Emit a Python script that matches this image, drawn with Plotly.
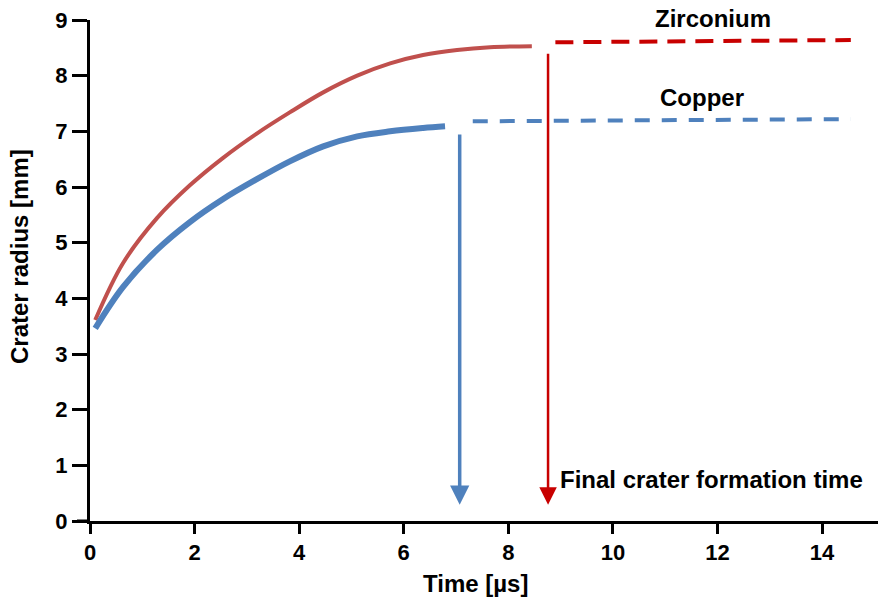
import plotly.graph_objects as go

# Data
zr_t = [0.10, 0.63, 1.28, 1.91, 2.54, 3.19, 3.82, 4.46, 5.11, 5.74, 6.37, 7.02, 7.65, 8.45]
zr_r = [3.61, 4.63, 5.44, 6.03, 6.52, 6.96, 7.34, 7.70, 8.00, 8.22, 8.37, 8.46, 8.51, 8.53]
cu_t = [0.10, 0.63, 1.28, 1.91, 2.54, 3.19, 3.82, 4.46, 5.11, 5.74, 6.37, 6.79]
cu_r = [3.46, 4.20, 4.87, 5.37, 5.78, 6.14, 6.46, 6.73, 6.91, 7.00, 7.06, 7.09]
zr_final_t = [8.9, 14.55]
zr_final_r = [8.60, 8.64]
cu_final_t = [7.32, 14.55]
cu_final_r = [7.18, 7.22]
cu_arrow = dict(t=7.07, r_from=6.97, r_to=0.29)
zr_arrow = dict(t=8.76, r_from=8.42, r_to=0.29)
x_ticks = [0, 2, 4, 6, 8, 10, 12, 14]
y_ticks = [0, 1, 2, 3, 4, 5, 6, 7, 8, 9]

RED_CURVE = "#c0504d"
RED = "#c80000"
BLUE = "#4f81bd"
FONT = "Liberation Sans, Arial, sans-serif"

fig = go.Figure()
fig.add_trace(go.Scatter(x=zr_t, y=zr_r, mode="lines",
                         line=dict(color=RED_CURVE, width=4, shape="spline", smoothing=1),
                         showlegend=False))
fig.add_trace(go.Scatter(x=cu_t, y=cu_r, mode="lines",
                         line=dict(color=BLUE, width=6, shape="spline", smoothing=1),
                         showlegend=False))
fig.add_trace(go.Scatter(x=zr_final_t, y=zr_final_r, mode="lines",
                         line=dict(color=RED, width=4, dash="18px,10px"),
                         showlegend=False))
fig.add_trace(go.Scatter(x=cu_final_t, y=cu_final_r, mode="lines",
                         line=dict(color=BLUE, width=4, dash="15px,12px"),
                         showlegend=False))

for a, col, w, s in [(cu_arrow, BLUE, 3.5, 1.1), (zr_arrow, RED, 2.5, 1.4)]:
    fig.add_annotation(x=a["t"], y=a["r_to"], ax=a["t"], ay=a["r_from"],
                       xref="x", yref="y", axref="x", ayref="y",
                       showarrow=True, arrowhead=2, arrowsize=s,
                       arrowwidth=w, arrowcolor=col, text="")

txt_font = dict(family=FONT, size=24, color="black", weight="bold")
fig.add_annotation(x=11.91, y=(521 - 19) / 501, xref="x", yref="paper", text="Zirconium",
                   showarrow=False, font=txt_font, xanchor="center", yanchor="middle")
fig.add_annotation(x=11.7, y=7.61, xref="x", yref="y", text="Copper",
                   showarrow=False, font=txt_font, xanchor="center", yanchor="middle")
fig.add_annotation(x=8.95, y=0.75, xref="x", yref="y", text="Final crater formation time",
                   showarrow=False, font=txt_font, xanchor="left", yanchor="middle")

title_font = dict(family=FONT, size=24, color="black", weight="bold")
fig.add_annotation(x=0.4886, y=-0.124, xref="paper", yref="paper", text="Time [µs]",
                   showarrow=False, font=title_font, xanchor="center", yanchor="middle")
fig.add_annotation(x=-0.0888, y=0.527, xref="paper", yref="paper", text="Crater radius [mm]",
                   showarrow=False, font=title_font, textangle=-90,
                   xanchor="center", yanchor="middle")

# extension of x axis line to the left of the y axis
fig.add_shape(type="line", xref="paper", yref="paper", x0=-0.0165, x1=0, y0=0, y1=0,
              line=dict(color="black", width=3))

tick_font = dict(family=FONT, size=22, color="black", weight="bold")
fig.update_xaxes(range=[0, 15.07], tickvals=x_ticks, showline=True, linewidth=3,
                 linecolor="black", ticks="outside", ticklen=10, tickwidth=3,
                 tickcolor="black", showgrid=False, zeroline=False, tickfont=tick_font)
fig.update_yaxes(range=[0, 9], tickvals=y_ticks, showline=True, linewidth=3,
                 linecolor="black", ticks="outside", ticklen=15, tickwidth=3,
                 tickcolor="black", showgrid=False, zeroline=False, tickfont=tick_font)

fig.update_layout(width=878, height=601, margin=dict(l=90, r=0, t=20, b=80),
                  plot_bgcolor="white", paper_bgcolor="white", showlegend=False)

fig.write_html("out.html")
